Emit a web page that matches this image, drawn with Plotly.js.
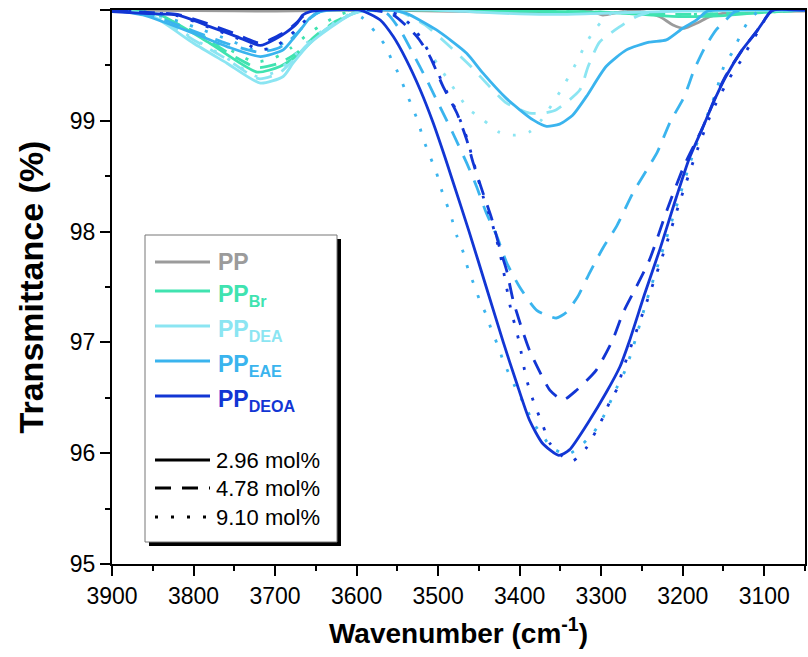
<!DOCTYPE html>
<html><head><meta charset="utf-8">
<script src="https://cdn.plot.ly/plotly-3.0.1.min.js"></script>
<style>html,body{margin:0;padding:0;background:#fff}#chart{width:808px;height:657px}</style>
</head><body><div id="chart"></div><script>
// ---------------- data ----------------
const wn_PP = [3900,3800,3700,3600,3500,3430,3380,3340,3314,3298,3274,3249,3228,3212,3198,3183,3167,3151,3127,3050];
const t_PP  = [100,99.995,99.99,100,99.99,99.98,99.97,99.975,99.99,99.955,99.985,99.985,99.94,99.865,99.835,99.88,99.94,99.97,99.985,99.99];

const wn_Br_296 = [3900,3880,3841,3780,3722,3694,3673,3649,3624,3604,3590,3500,3400,3300,3250,3200,3150,3100,3050];
const t_Br_296  = [100,99.995,99.955,99.70,99.44,99.49,99.59,99.76,99.89,99.97,100,100,99.99,99.98,99.96,99.94,99.95,99.98,100];
const wn_Br_478 = [3900,3850,3790,3750,3722,3695,3672,3650,3625,3605,3590,3500,3400,3300,3200,3100,3050];
const t_Br_478  = [100,99.97,99.76,99.58,99.48,99.52,99.62,99.77,99.90,99.97,100,100,99.99,99.98,99.96,99.98,100];
const wn_Br_910 = [3900,3850,3790,3750,3725,3700,3680,3660,3640,3620,3600,3500,3300,3200,3100,3050];
const t_Br_910  = [100,99.97,99.77,99.62,99.53,99.57,99.66,99.78,99.88,99.96,100,100,99.98,99.96,99.98,100];

const wn_DEA_296 = [3900,3853,3800,3759,3718,3690,3678,3657,3632,3608,3596,3580,3500,3450,3400,3350,3300,3250,3200,3050];
const t_DEA_296  = [100,99.955,99.70,99.52,99.34,99.40,99.52,99.70,99.84,99.955,99.985,100,100,99.98,99.965,99.96,99.97,99.98,99.99,100];
const wn_DEA_478 = [3900,3850,3800,3760,3720,3695,3680,3660,3635,3610,3590,3560,3545,3516,3490,3461,3437,3416,3388,3370,3355,3326,3316,3302,3277,3257,3235,3200,3050];
const t_DEA_478  = [100,99.95,99.73,99.56,99.38,99.43,99.53,99.69,99.84,99.95,100,100,99.98,99.865,99.70,99.50,99.31,99.16,99.07,99.07,99.10,99.28,99.49,99.71,99.85,99.94,99.99,100,100];
const wn_DEA_910 = [3900,3850,3800,3760,3722,3697,3680,3660,3635,3612,3592,3575,3553,3534,3516,3486,3463,3445,3426,3408,3388,3373,3349,3330,3320,3310,3296,3280,3050];
const t_DEA_910  = [100,99.96,99.74,99.57,99.40,99.45,99.56,99.71,99.85,99.95,100,100,99.955,99.865,99.68,99.35,99.11,99.01,98.90,98.87,98.90,99.01,99.28,99.53,99.68,99.80,99.925,100,100];

const wn_EAE_296 = [3900,3862,3800,3759,3718,3690,3679,3669,3657,3645,3630,3560,3539,3502,3465,3445,3416,3384,3367,3351,3335,3318,3294,3269,3241,3220,3200,3183,3171,3160,3050];
const t_EAE_296  = [100,99.955,99.79,99.67,99.58,99.64,99.73,99.82,99.93,99.985,100,100,99.97,99.82,99.61,99.43,99.20,99.01,98.95,98.97,99.05,99.22,99.49,99.64,99.71,99.73,99.835,99.91,99.985,100,100];
const wn_EAE_478 = [3900,3860,3800,3760,3720,3695,3680,3668,3656,3640,3585,3563,3545,3531,3514,3498,3482,3465,3453,3441,3428,3416,3400,3379,3355,3343,3329,3314,3298,3281,3261,3231,3216,3198,3186,3173,3159,3151,3137,3125,3050];
const t_EAE_478  = [100,99.97,99.81,99.70,99.62,99.66,99.74,99.83,99.93,100,100,99.97,99.80,99.61,99.37,99.13,98.89,98.62,98.41,98.17,97.96,97.72,97.50,97.29,97.22,97.27,97.41,97.63,97.85,98.05,98.35,98.72,98.98,99.22,99.46,99.66,99.82,99.88,99.98,100,100];
const wn_EAE_910 = [3900,3850,3800,3760,3725,3700,3685,3672,3660,3645,3610,3592,3577,3565,3557,3547,3539,3532,3524,3518,3510,3502,3496,3490,3483,3477,3469,3463,3457,3449,3441,3434,3426,3420,3402,3392,3383,3371,3361,3341,3326,3310,3298,3281,3271,3262,3244,3226,3208,3190,3175,3161,3149,3139,3130,3121,3105,3050];
const t_EAE_910  = [100,99.97,99.85,99.74,99.64,99.66,99.73,99.82,99.92,100,100,99.925,99.80,99.68,99.55,99.40,99.25,99.13,98.98,98.83,98.68,98.53,98.38,98.26,98.11,97.96,97.81,97.655,97.54,97.38,97.25,97.10,96.96,96.83,96.545,96.41,96.27,96.15,96.05,95.99,96.06,96.18,96.32,96.59,96.74,96.93,97.38,97.80,98.22,98.64,98.95,99.22,99.50,99.62,99.76,99.88,100,100];

const wn_DEOA_296 = [3900,3862,3820,3780,3747,3718,3698,3686,3673,3666,3657,3640,3596,3590,3571,3555,3539,3522,3506,3492,3484,3462,3441,3420,3404,3388,3372,3352,3339,3314,3294,3277,3265,3247,3228,3210,3192,3176,3159,3147,3127,3110,3094,3090,3050];
const t_DEOA_296  = [99.985,99.97,99.955,99.85,99.76,99.68,99.745,99.80,99.88,99.955,99.985,100,100,99.985,99.91,99.76,99.55,99.28,98.98,98.68,98.50,98.00,97.50,97.00,96.64,96.30,96.09,95.98,96.03,96.30,96.545,96.78,97.02,97.43,97.84,98.26,98.66,98.93,99.22,99.40,99.64,99.80,99.97,100,100];
const wn_DEOA_478 = [3900,3860,3820,3780,3747,3718,3698,3686,3673,3663,3650,3580,3555,3526,3510,3494,3477,3465,3457,3445,3434,3424,3416,3408,3398,3388,3375,3363,3347,3330,3306,3286,3273,3257,3241,3219,3198,3176,3159,3147,3127,3110,3094,3088,3050];
const t_DEOA_478  = [100,99.98,99.96,99.87,99.78,99.70,99.76,99.81,99.89,99.96,100,100,99.955,99.76,99.58,99.31,99.07,98.83,98.62,98.35,98.11,97.84,97.65,97.38,97.14,96.93,96.73,96.57,96.48,96.57,96.75,97.02,97.27,97.50,97.74,98.20,98.60,98.93,99.23,99.41,99.64,99.80,99.97,100,100];
const wn_DEOA_910 = [3900,3860,3820,3780,3745,3720,3700,3685,3670,3660,3650,3575,3550,3531,3520,3510,3494,3477,3465,3457,3445,3434,3424,3410,3404,3400,3392,3386,3379,3371,3363,3347,3335,3318,3298,3290,3280,3274,3241,3222,3204,3182,3167,3159,3149,3139,3128,3118,3108,3098,3090,3050];
const t_DEOA_910  = [100,99.98,99.95,99.84,99.74,99.64,99.67,99.75,99.85,99.93,100,100,99.96,99.85,99.73,99.60,99.33,99.08,98.85,98.64,98.32,98.08,97.80,97.27,97.11,96.98,96.68,96.53,96.39,96.24,96.09,95.97,95.93,96.05,96.32,96.455,96.59,96.74,97.43,97.84,98.26,98.74,99.03,99.16,99.30,99.43,99.55,99.68,99.80,99.93,100,100];

// legend text
const sampleNames = ['PP','PP<sub>Br</sub>','PP<sub>DEA</sub>','PP<sub>EAE</sub>','PP<sub>DEOA</sub>'];
const concNames = ['2.96 mol%','4.78 mol%','9.10 mol%'];
const xTickVals = [3900,3800,3700,3600,3500,3400,3300,3200,3100];
const yTickVals = [95,96,97,98,99,100];

// ---------------- styles ----------------
const sampleColors = ['#9b9b9b','#40e3b0','#8be5f2','#3ab4ee','#1236d4'];
const dashes = ['solid','16px,11px','3px,13px'];
const LW = 2.8;

function tr(x, y, ci, di){
  return {x:x, y:y, type:'scatter', mode:'lines', showlegend:false, hoverinfo:'skip',
    line:{color:sampleColors[ci], width:LW, dash:dashes[di], shape:'spline', smoothing:0.6}};
}
const traces = [
  tr(wn_PP,t_PP,0,0),
  tr(wn_Br_296,t_Br_296,1,0), tr(wn_Br_478,t_Br_478,1,1), tr(wn_Br_910,t_Br_910,1,2),
  tr(wn_DEA_296,t_DEA_296,2,0), tr(wn_DEA_478,t_DEA_478,2,1), tr(wn_DEA_910,t_DEA_910,2,2),
  tr(wn_EAE_296,t_EAE_296,3,0), tr(wn_EAE_478,t_EAE_478,3,1), tr(wn_EAE_910,t_EAE_910,3,2),
  tr(wn_DEOA_296,t_DEOA_296,4,0), tr(wn_DEOA_478,t_DEOA_478,4,1), tr(wn_DEOA_910,t_DEOA_910,4,2)
];

// ---------------- layout ----------------
const W=808, H=657, ML=112, MR=3, MT=10, MB=93;
const PW=W-ML-MR, PH=H-MT-MB;
const fx = px => (px-ML)/PW;
const fy = py => 1-(py-MT)/PH;
const FONT = 'Arial, "Liberation Sans", sans-serif';

const shapes = [];
const annotations = [];
// legend box + shadow
shapes.push({type:'rect', xref:'paper', yref:'paper', x0:fx(149), x1:fx(341), y0:fy(239), y1:fy(546),
  fillcolor:'#000', line:{width:0}});
shapes.push({type:'rect', xref:'paper', yref:'paper', x0:fx(145), x1:fx(337), y0:fy(235), y1:fy(542),
  fillcolor:'#fff', line:{color:'#777', width:1}});
const sampleY = [262, 291, 326, 361, 396];
const concY = [460, 488, 517];
sampleNames.forEach((n,i)=>{
  shapes.push({type:'line', xref:'paper', yref:'paper', x0:fx(155), x1:fx(210), y0:fy(sampleY[i]), y1:fy(sampleY[i]),
    line:{color:sampleColors[i], width:LW}});
  annotations.push({xref:'paper', yref:'paper', x:fx(216), y:fy(sampleY[i]-(i>0?-4:0)), xanchor:'left', yanchor:'middle',
    showarrow:false, text:'<b>'+n+'</b>', font:{family:FONT, size:23, color:sampleColors[i]}});
});
concNames.forEach((n,i)=>{
  shapes.push({type:'line', xref:'paper', yref:'paper', x0:fx(155), x1:fx(210), y0:fy(concY[i]), y1:fy(concY[i]),
    line:{color:'#000', width:LW, dash:dashes[i]}});
  annotations.push({xref:'paper', yref:'paper', x:fx(214), y:fy(concY[i]), xanchor:'left', yanchor:'middle',
    showarrow:false, text:n, font:{family:FONT, size:22, color:'#000'}});
});

const axisCommon = {showline:true, linecolor:'#000', linewidth:2, mirror:true, showgrid:false, zeroline:false,
  ticks:'outside', ticklen:10, tickwidth:2, tickcolor:'#000', tickfont:{family:FONT, size:23, color:'#000'}};

const layout = {
  width:W, height:H, margin:{l:ML, r:MR, t:MT, b:MB}, paper_bgcolor:'#fff', plot_bgcolor:'#fff',
  showlegend:false, font:{family:FONT, color:'#000'},
  xaxis:Object.assign({}, axisCommon, {range:[3900,3050], autorange:false, tickmode:'array', tickvals:xTickVals,
    minor:{dtick:50, tick0:3900, ticks:'outside', ticklen:5, tickwidth:2, tickcolor:'#000', showgrid:false},
    title:{text:'<b>Wavenumber (cm<sup>-1</sup>)</b>', font:{family:FONT, size:28, color:'#000'}, standoff:16}}),
  yaxis:Object.assign({}, axisCommon, {range:[95,100], autorange:false, tickmode:'array', tickvals:yTickVals,
    minor:{dtick:0.5, tick0:95, ticks:'outside', ticklen:5, tickwidth:2, tickcolor:'#000', showgrid:false},
    title:{text:'<b>Transmittance (%)</b>', font:{family:FONT, size:34, color:'#000'}, standoff:16}}),
  shapes:shapes, annotations:annotations
};

Plotly.newPlot('chart', traces, layout, {displayModeBar:false, staticPlot:true});
</script></body></html>
